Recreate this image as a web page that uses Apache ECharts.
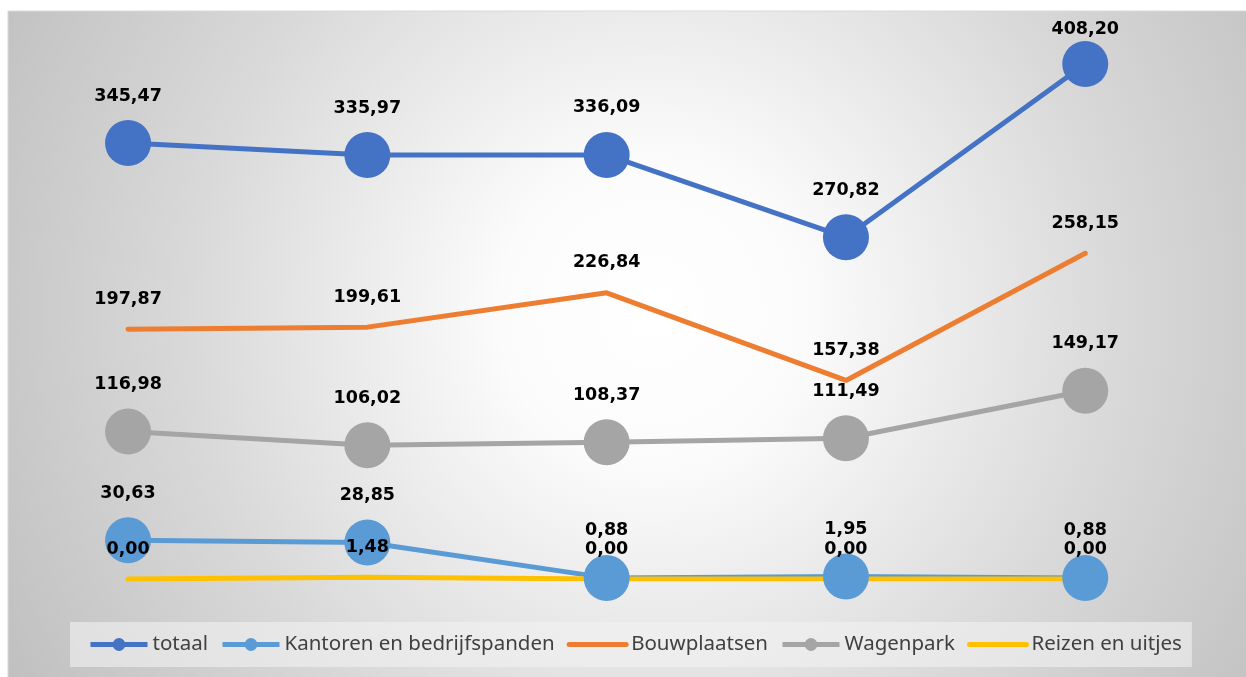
<!DOCTYPE html>
<html>
<head>
<meta charset="utf-8">
<script src="https://cdn.jsdelivr.net/npm/echarts@6/dist/echarts.min.js"></script>
<style>
    html, body { margin: 0; padding: 0; background: #fff; }
    #main { width: 1246px; height: 677px; }
</style>
</head>
<body>
<div id="main"></div>
<script>
// categorieen (geen aslabels zichtbaar)
var categories = ['1', '2', '3', '4', '5'];
var totaal = [345.47, 335.97, 336.09, 270.82, 408.20];
var kantoren = [30.63, 28.85, 0.88, 1.95, 0.88];
var bouwplaatsen = [197.87, 199.61, 226.84, 157.38, 258.15];
var wagenpark = [116.98, 106.02, 108.37, 111.49, 149.17];
var reizen = [0.00, 1.48, 0.00, 0.00, 0.00];

var chart = echarts.init(document.getElementById('main'));

// getal met komma
function fmt(p) {
    return p.value.toFixed(2).replace('.', ',');
}

function lbl(dist) {
    return {
        show: true,
        position: 'top',
        distance: dist,
        formatter: fmt,
        color: '#000',
        fontFamily: 'DejaVu Sans',
        fontWeight: 'bold',
        fontSize: 17.5
    };
}

function markerSeries(name, data, color) {
    return {
        name: name,
        type: 'line',
        data: data,
        symbol: 'circle',
        symbolSize: 46,
        color: color,
        itemStyle: { color: color },
        lineStyle: { width: 5, color: color },
        label: lbl(15),
        z: 2
    };
}

// lijn zonder markers, labels blijven zichtbaar
function plainSeries(name, data, color) {
    return {
        name: name,
        type: 'line',
        data: data,
        symbol: 'circle',
        symbolSize: 0,
        showAllSymbol: true,
        color: color,
        itemStyle: { color: color },
        lineStyle: { width: 5, color: color, cap: 'round' },
        label: lbl(21),
        z: 2
    };
}

// hoogste label past niet boven de grafiek, dus dichter bij het punt
var totaalData = totaal.map(function (v, i) {
    if (i == totaal.length - 1) {
        return { value: v, label: { distance: 2 } };
    }
    return v;
});

var option = {
    animation: false,
    graphic: [{
        type: 'rect',
        z: -10,
        silent: true,
        shape: { x: 8, y: 11, width: 1240, height: 670 },
        style: {
            fill: new echarts.graphic.RadialGradient(0.52, 0.45, 1.15, [
                { offset: 0, color: '#ffffff' },
                { offset: 0.2, color: '#fbfbfb' },
                { offset: 0.6, color: '#d9d9d9' },
                { offset: 1, color: '#bdbdbd' }
            ]),
            stroke: '#d9d9d9',
            lineWidth: 1
        }
    }],
    grid: {
        left: 8.4,
        width: 1196.5,
        top: 11.2,
        bottom: 98
    },
    legend: {
        bottom: 10,
        left: 70,
        itemWidth: 57,
        itemHeight: 16,
        itemGap: 12,
        padding: [12, 10, 12, 18],
        backgroundColor: 'rgba(242,242,242,0.6)',
        lineStyle: { width: 5 },
        textStyle: {
            fontFamily: 'Noto Sans',
            fontSize: 20.5,
            color: '#404040'
        },
        data: [
            { name: 'totaal' },
            { name: 'Kantoren en bedrijfspanden' },
            { name: 'Bouwplaatsen', itemStyle: { opacity: 0 } },
            { name: 'Wagenpark' },
            { name: 'Reizen en uitjes', itemStyle: { opacity: 0 } }
        ]
    },
    xAxis: {
        type: 'category',
        data: categories,
        show: false
    },
    yAxis: {
        type: 'value',
        min: 0,
        max: 450,
        show: false,
        splitLine: { show: false }
    },
    series: [
        markerSeries('totaal', totaalData, '#4472C4'),
        markerSeries('Kantoren en bedrijfspanden', kantoren, '#5B9BD5'),
        plainSeries('Bouwplaatsen', bouwplaatsen, '#ED7D31'),
        markerSeries('Wagenpark', wagenpark, '#A5A5A5'),
        plainSeries('Reizen en uitjes', reizen, '#FFC000')
    ]
};

chart.setOption(option);
</script>
</body>
</html>
